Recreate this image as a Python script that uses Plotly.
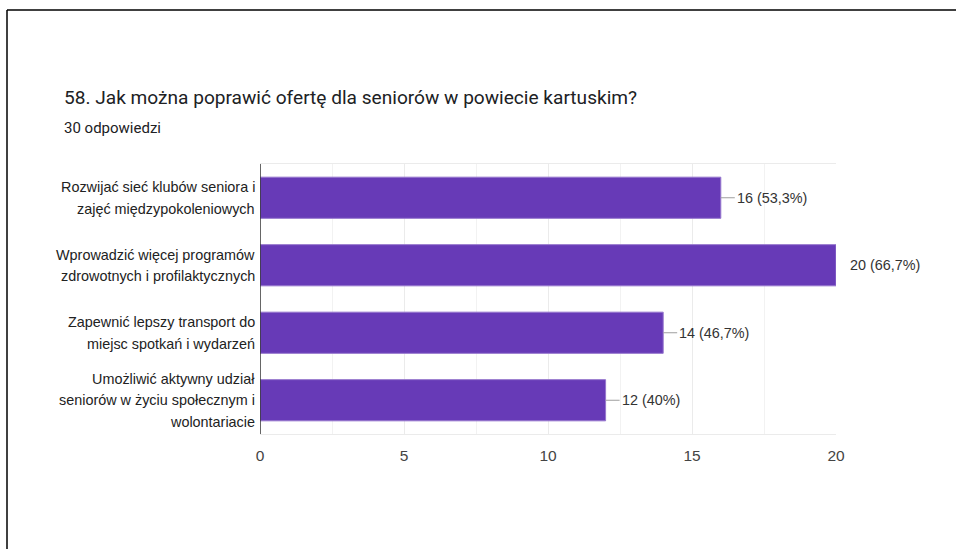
import plotly.graph_objects as go

# survey data
categories = [
    "Rozwijać sieć klubów seniora i<br>zajęć międzypokoleniowych",
    "Wprowadzić więcej programów<br>zdrowotnych i profilaktycznych",
    "Zapewnić lepszy transport do<br>miejsc spotkań i wydarzeń",
    "Umożliwić aktywny udział<br>seniorów w życiu społecznym i<br>wolontariacie",
]
counts = [16, 20, 14, 12]
percents = ["53,3%", "66,7%", "46,7%", "40%"]
x_ticks = [0, 5, 10, 15, 20]

title_text = "58. Jak można poprawić ofertę dla seniorów w powiecie kartuskim?"
subtitle_text = "30 odpowiedzi"

W, H = 956, 549
ML, MR, MT, MB = 260, 120, 164, 115
x_max = 20
pw, ph = W - ML - MR, H - MT - MB
label_font = dict(family="Liberation Sans, Arial", size=14.4, color="#222222")
line_step = 21.5

fig = go.Figure()

fig.add_trace(go.Bar(
    x=counts,
    y=categories,
    orientation="h",
    marker=dict(color="#673ab7", line=dict(color="#9575cd", width=1)),
    width=0.61,
    hoverinfo="skip",
))

# category labels, one annotation per line for the wider line spacing
for cat in categories:
    lines = cat.split("<br>")
    for i, ln in enumerate(lines):
        fig.add_annotation(
            x=0, y=cat, xref="x", yref="y",
            text=ln, showarrow=False,
            xanchor="right", yanchor="middle",
            xshift=-3, yshift=-(i - (len(lines) - 1) / 2) * line_step,
            font=label_font,
        )

# value labels with short leader lines
for cat, n, p in zip(categories, counts, percents):
    at_edge = n >= x_max
    fig.add_annotation(
        x=n, y=cat, xref="x", yref="y",
        text=f"{n} ({p})",
        showarrow=not at_edge,
        arrowhead=0, arrowwidth=1, arrowcolor="#9e9e9e",
        ax=14, ay=0, standoff=0,
        xanchor="left",
        xshift=12 if at_edge else 0,
        font=dict(family="Liberation Sans, Arial", size=14.4, color="#333333"),
    )

# page title and response count
fig.add_annotation(
    text=title_text, xref="paper", yref="paper",
    x=(62 - ML) / pw, y=1 + (MT - 84) / ph,
    xanchor="left", yanchor="top", showarrow=False,
    font=dict(family="Roboto", size=19.1, color="#202124"),
)
fig.add_annotation(
    text=subtitle_text, xref="paper", yref="paper",
    x=(62 - ML) / pw, y=1 + (MT - 117) / ph,
    xanchor="left", yanchor="top", showarrow=False,
    font=dict(family="Roboto", size=15, color="#202124"),
)

# frame of the screenshot (top and left edges)
fig.add_shape(type="line", xref="paper", yref="paper",
              x0=(7 - ML) / pw, x1=(W - ML) / pw,
              y0=1 + (MT - 10) / ph, y1=1 + (MT - 10) / ph,
              line=dict(color="black", width=1.5))
fig.add_shape(type="line", xref="paper", yref="paper",
              x0=(7 - ML) / pw, x1=(7 - ML) / pw,
              y0=1 + (MT - 10) / ph, y1=-(MB) / ph,
              line=dict(color="black", width=1.5))

fig.update_layout(
    width=W, height=H,
    margin=dict(l=ML, r=MR, t=MT, b=MB),
    plot_bgcolor="white", paper_bgcolor="white",
    showlegend=False,
    bargap=0.39,
    font=label_font,
)

fig.update_xaxes(
    range=[0, x_max],
    tickvals=x_ticks,
    showgrid=True, gridcolor="#ebebeb", gridwidth=1,
    minor=dict(dtick=2.5, showgrid=True, gridcolor="#f2f2f2"),
    zeroline=False,
    showline=True, linecolor="#ebebeb", mirror=True,
    tickfont=dict(family="Liberation Sans, Arial", size=15.5, color="#444444"),
    ticks="", ticklabelstandoff=7,
    fixedrange=True,
)
fig.update_yaxes(
    autorange="reversed",
    showgrid=False, zeroline=False,
    showline=False,
    ticks="", showticklabels=False,
    fixedrange=True,
)

# dark vertical axis at zero
fig.add_shape(type="line", xref="x", yref="paper", x0=0, x1=0, y0=0, y1=1,
              line=dict(color="#333333", width=1.5))

# drop the default page margin so the figure sits at the window corner
fig.write_html("out.html", config={"displayModeBar": False},
               post_script="document.body.style.margin='0';")
